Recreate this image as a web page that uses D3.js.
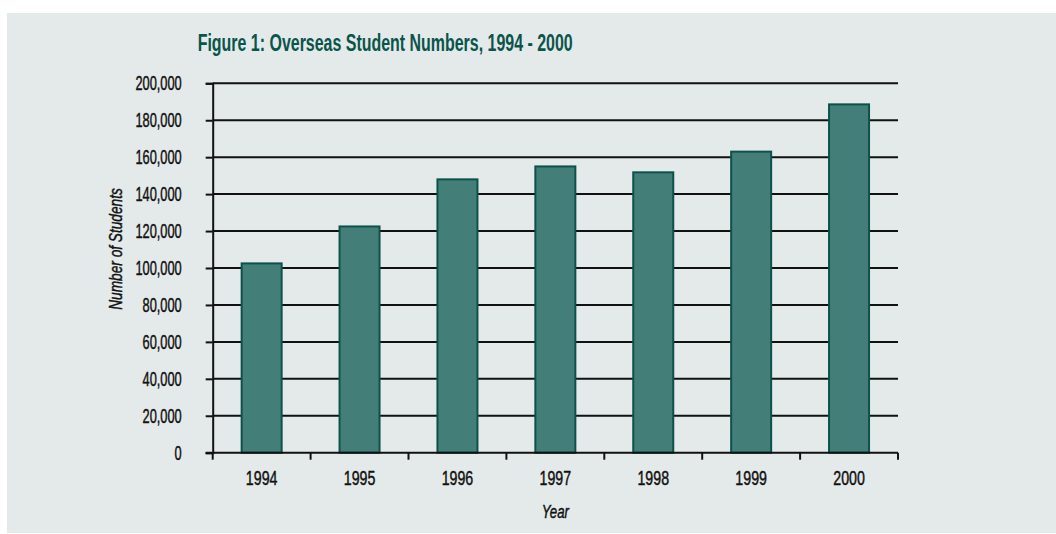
<!DOCTYPE html>
<html><head><meta charset="utf-8">
<script src="https://cdn.jsdelivr.net/npm/d3@7"></script>
<style>
html,body{margin:0;padding:0;background:#fff;}
svg{display:block;}
text{font-family:"Liberation Sans",Arial,sans-serif;}
</style></head>
<body>
<svg id="chart" width="1056" height="534"></svg>
<script>
const years = ["1994","1995","1996","1997","1998","1999","2000"];
const students = [102500, 122500, 148000, 155000, 151800, 163000, 188600];
const yTicks = [0,20000,40000,60000,80000,100000,120000,140000,160000,180000,200000];
const titleText = "Figure 1: Overseas Student Numbers, 1994 - 2000";
const xTitle = "Year";
const yTitle = "Number of Students";

(function(){
const FONT = '"Liberation Sans",Arial,sans-serif';
function condense(sel, factor){
  sel.each(function(){
    const w = this.getComputedTextLength();
    d3.select(this).attr("textLength", w*factor).attr("lengthAdjust","spacingAndGlyphs")
      .attr("stroke","#111").attr("stroke-width",0.45);
  });
}
const svg = d3.select("#chart");
svg.append("rect").attr("x",7).attr("y",13).attr("width",1049).attr("height",520).attr("fill","#e4eaea");

const pLeft = 212.7, pRight = 898, pTop = 83.3, pBottom = 452.7;
const x = d3.scaleBand().domain(years).range([pLeft,pRight]).paddingInner(0).paddingOuter(0);
const y = d3.scaleLinear().domain([0,200000]).range([pBottom,pTop]);
const barW = 40;

// gridlines
svg.append("g").selectAll("line").data(yTicks.filter(d=>d>0)).join("line")
  .attr("x1",pLeft).attr("x2",pRight).attr("y1",d=>y(d)).attr("y2",d=>y(d))
  .attr("stroke","#111").attr("stroke-width",2);

// bars
svg.append("g").selectAll("rect").data(years).join("rect")
  .attr("x",(d)=>x(d)+x.bandwidth()/2-barW/2)
  .attr("y",(d,i)=>y(students[i]))
  .attr("width",barW)
  .attr("height",(d,i)=>pBottom-y(students[i]))
  .attr("fill","#447e78").attr("stroke","#0d524a").attr("stroke-width",2);

// y axis
const yAxis = d3.axisLeft(y).tickValues(yTicks).tickSize(7).tickPadding(24)
  .tickFormat(d3.format(","));
const gy = svg.append("g").attr("transform",`translate(${pLeft},0)`).call(yAxis);
gy.attr("font-family",FONT);
gy.select(".domain").attr("stroke","#111").attr("stroke-width",2);
gy.selectAll(".tick line").attr("stroke","#111").attr("stroke-width",2);
const yt = gy.selectAll(".tick text").attr("font-size",20).attr("fill","#111").attr("dy","0.33em");
condense(yt, 0.64);

// x axis with ticks at band boundaries
const gx = svg.append("g").attr("transform",`translate(0,${pBottom})`);
gx.append("line").attr("x1",pLeft-7).attr("x2",pRight).attr("y1",0).attr("y2",0)
  .attr("stroke","#111").attr("stroke-width",2);
const bounds = years.map(d=>x(d)).concat([x(years[years.length-1])+x.step()]);
gx.selectAll("line.tk").data(bounds).join("line").attr("class","tk")
  .attr("x1",d=>d).attr("x2",d=>d).attr("y1",0).attr("y2",7)
  .attr("stroke","#111").attr("stroke-width",2);
const xt = gx.selectAll("text").data(years).join("text")
  .attr("x",d=>x(d)+x.bandwidth()/2).attr("y",32.5)
  .attr("text-anchor","middle").attr("font-size",20).attr("fill","#111").text(d=>d);
condense(xt, 0.71);

// titles
svg.append("text").attr("x",197.7).attr("y",51).attr("font-size",23.5).attr("font-weight","bold")
  .attr("fill","#0b544a").attr("textLength",375).attr("lengthAdjust","spacingAndGlyphs").text(titleText);
const xl = svg.append("text").attr("x",(pLeft+pRight)/2).attr("y",518).attr("text-anchor","middle")
  .attr("font-size",19).attr("font-style","italic").attr("fill","#111").text(xTitle);
condense(xl, 0.7);
const yl = svg.append("text").attr("transform","translate(122,249) rotate(-90)").attr("text-anchor","middle")
  .attr("font-size",19).attr("font-style","italic").attr("fill","#111").text(yTitle);
condense(yl, 0.72);
})();
</script>
</body></html>
